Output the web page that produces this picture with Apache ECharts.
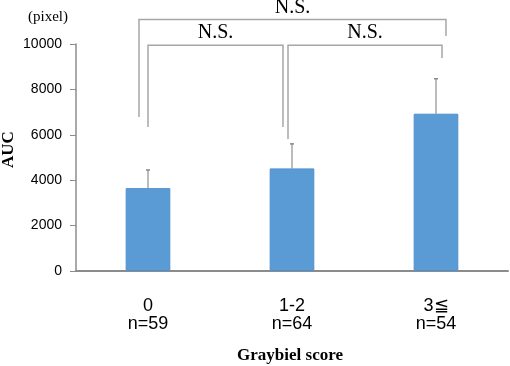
<!DOCTYPE html>
<html>
	<head>
		<meta charset="UTF-8">
		<title></title>
	</head>
	<body style="height: 100%; margin: 0">
		<div id="container" style="width: 510px; height: 366px"></div>
		<script src="https://cdn.jsdelivr.net/npm/echarts@6/dist/echarts.min.js" type="text/javascript" charset="utf-8"></script>
		<script type="text/javascript">
			// data
			var scores = ['0', '1-2', '3≦'];
			var counts = ['n=59', 'n=64', 'n=54'];
			var aucMean = [3650, 4520, 6930];
			var aucSD = [800, 1080, 1540];
			var yTicks = [0, 2000, 4000, 6000, 8000, 10000];
			// comparisons: [from, to, bracket top, left foot, right foot]
			var compares = [
				[0, 2, 11080, 6780, 10350],
				[0, 1, 9950, 6340, 6340],
				[1, 2, 9950, 5820, 9380]
			];
			var compareLabels = ['N.S.', 'N.S.', 'N.S.'];

			// pixel nudges of bracket legs from the category centres
			var legShift = [[-9, 10], [0, -9], [-4, 6]];

			var dom = document.getElementById("container");
			var myChart = echarts.init(dom);
			var gray = '#a6a6a6';

			var errData = aucMean.map(function (m, i) {
				return [i, m, m + aucSD[i]];
			});

			option = {
				animation: false,
				grid: {
					left: 76,
					right: 2,
					top: 44,
					bottom: 95,
					containLabel: false,
					outerBoundsMode: 'none'
				},
				graphic: [
					{
						type: 'text',
						left: 28,
						top: 10,
						style: {
							text: '(pixel)',
							font: '15px "Liberation Serif", serif',
							fill: '#000'
						}
					},
					{
						type: 'text',
						x: 0,
						y: 168,
						rotation: Math.PI / 2,
						style: {
							text: 'AUC',
							font: 'bold 17px "Liberation Serif", serif',
							fill: '#000'
						}
					},
					{
						type: 'text',
						x: 290,
						y: 356,
						style: {
							text: 'Graybiel score',
							font: 'bold 17px "Liberation Serif", serif',
							fill: '#000',
							align: 'center',
							verticalAlign: 'middle'
						}
					}
				],
				xAxis: {
					type: 'category',
					data: scores,
					axisTick: { show: false },
					axisLine: { lineStyle: { color: '#8c8c8c', width: 2 } },
					axisLabel: {
						margin: 26,
						fontFamily: '"Liberation Sans", Arial, sans-serif',
						fontSize: 18,
						lineHeight: 18,
						color: '#000',
						formatter: function (v, i) {
							return v + '\n' + counts[i];
						}
					}
				},
				yAxis: {
					type: 'value',
					min: yTicks[0],
					max: yTicks[yTicks.length - 1],
					interval: yTicks[1] - yTicks[0],
					splitLine: { show: false },
					axisLine: { show: true, lineStyle: { color: '#8c8c8c', width: 1.5 } },
					axisTick: { show: true, length: 6, lineStyle: { color: '#8c8c8c' } },
					axisLabel: {
						margin: 14,
						fontFamily: '"Liberation Sans", Arial, sans-serif',
						fontSize: 14,
						color: '#000',
						formatter: function (v) {
							return String(v);
						}
					}
				},
				series: [
					{
						type: 'bar',
						data: aucMean,
						barWidth: '31%',
						itemStyle: {
							color: '#5b9bd5',
							borderColor: '#4f8fcc',
							borderWidth: 1
						},
						z: 2
					},
					{
						type: 'custom',
						data: errData,
						encode: { x: 0, y: [1, 2] },
						z: 1,
						renderItem: function (params, api) {
							var lo = api.coord([api.value(0), api.value(1)]);
							var hi = api.coord([api.value(0), api.value(2)]);
							return {
								type: 'group',
								children: [
									{
										type: 'line',
										shape: { x1: lo[0], y1: lo[1], x2: hi[0], y2: hi[1] },
										style: { stroke: gray, lineWidth: 1.5 }
									},
									{
										type: 'line',
										shape: { x1: hi[0] - 2, y1: hi[1], x2: hi[0] + 2, y2: hi[1] },
										style: { stroke: '#888', lineWidth: 1.5 }
									}
								]
							};
						}
					},
					{
						type: 'custom',
						data: compares,
						encode: { x: 0, y: 2 },
						clip: false,
						renderItem: function (params, api) {
							var i = params.dataIndex;
							var a = api.coord([api.value(0), api.value(2)]);
							var b = api.coord([api.value(1), api.value(2)]);
							var la = api.coord([api.value(0), api.value(3)]);
							var lb = api.coord([api.value(1), api.value(4)]);
							var x1 = a[0] + legShift[i][0];
							var x2 = b[0] + legShift[i][1];
							return {
								type: 'group',
								children: [
									{
										type: 'polyline',
										shape: { points: [[x1, la[1]], [x1, a[1]], [x2, a[1]], [x2, lb[1]]] },
										style: { stroke: gray, lineWidth: 1.5, fill: null }
									},
									{
										type: 'text',
										x: (x1 + x2) / 2,
										y: a[1] - 2,
										style: {
											text: compareLabels[i],
											font: '20px "Liberation Serif", serif',
											fill: '#000',
											align: 'center',
											verticalAlign: 'bottom'
										}
									}
								]
							};
						}
					}
				]
			};

			if (option && typeof option === "object") {
				myChart.setOption(option, true);
			}
		</script>
	</body>
</html>
